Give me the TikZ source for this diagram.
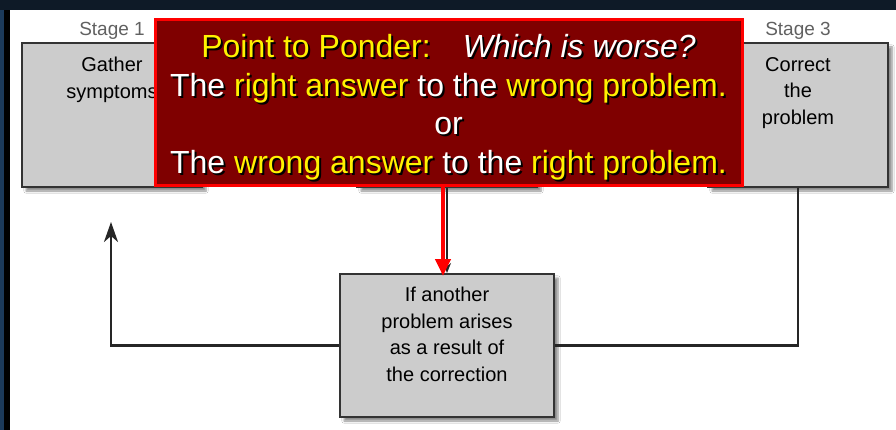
\documentclass[tikz,border=0pt]{standalone}
\usepackage{fontspec}
\setmainfont{Liberation Sans}
\usetikzlibrary{arrows.meta,positioning,shadows.blur}
\definecolor{framenavy}{HTML}{1C3A5A}
\definecolor{framedark}{HTML}{0E1A27}
\definecolor{boxgrey}{HTML}{CCCCCC}
\definecolor{pondred}{HTML}{7F0000}
\colorlet{hl}{yellow}
\colorlet{fg}{white}
\newcommand{\hlt}[1]{\textcolor{hl}{#1}}
\newcommand{\fgt}[1]{\textcolor{fg}{#1}}
\newcommand{\pondertext}{%
  \hlt{Point to Ponder:}\quad\fgt{\itshape Which is worse?}\\
  \fgt{The} \hlt{right answer} \fgt{to the} \hlt{wrong problem.}\\
  \fgt{or}\\
  \fgt{The} \hlt{wrong answer} \fgt{to the} \hlt{right problem.}}

\begin{document}
\begin{tikzpicture}[
  x=1pt, y=-1pt,
  every node/.style={inner sep=0pt},
  stagebox/.style ={draw=black!80, line width=2pt, fill=boxgrey,
                    minimum width=180pt, minimum height=144pt,
                    blur shadow={shadow xshift=4pt, shadow yshift=-4pt,
                                 shadow blur steps=6, shadow opacity=45}},
  stagelabel/.style={font=\fontsize{19}{22}\selectfont, text=black!62},
  boxtext/.style   ={font=\fontsize{20}{26.5}\selectfont, align=center, text=black},
  ponderbox/.style ={fill=pondred, draw=red, line width=3pt,
                     minimum width=587pt, minimum height=166pt},
  pondertxt/.style ={font=\fontsize{32}{38.7}\selectfont, align=center},
  pondershade/.style={pondertxt, text=black,
                     execute at begin node={\colorlet{hl}{black}\colorlet{fg}{black}}},
  flow/.style      ={draw=black!85, line width=2.3pt},
  flowarrow/.style ={flow, -{Stealth[length=20pt,width=14pt,inset=6pt]}},
  redarrow/.style  ={draw=red, line width=4pt, -{Triangle[length=17pt,width=15pt]}}]

% ----------------------------- frame ---------------------------------
\useasboundingbox (0,0) rectangle (896,430);
\fill[framedark] (0,0) rectangle (896,430);
\fill[framenavy] (0,10) rectangle (4,430);
\fill[black] (4,10) rectangle (10,430);
\fill[white] (10,10) rectangle (896,430);

% ---------------------------- stages ---------------------------------
\node[stagebox] (gather) at (112,115) {};
\node[stagebox] (stagetwo) at (447,115) {};
\node[stagebox] (correct) at (798,115) {};
\node[stagelabel, above=2pt of gather.north] (gatherlbl) {Stage 1};
\node[stagelabel, above=2pt of correct.north] (correctlbl) {Stage 3};
\node[boxtext, below=15pt of gather.north] (gathertxt) {Gather\\symptoms};
\node[boxtext, below=15pt of correct.north] (correcttxt) {Correct\\the\\problem};

% ------------------------- the new problem ---------------------------
\node[stagebox, minimum width=214pt, minimum height=143pt] (arises) at (447,345.5) {};
\node[boxtext, below=14pt of arises.north] (arisestxt)
  {If another\\problem arises\\as a result of\\the correction};

\coordinate (loopend) at (111,222);
\draw[flow] (correct.south) |- (arises.east);
\draw[flowarrow] (arises.west) -| (loopend);
\draw[flow, -{Stealth[length=10pt,width=8pt]}] (stagetwo.south) -- (arises.north);

% ---------------------------- ponder ---------------------------------
\node[ponderbox] (ponder) at (448.5,103) {};
\node[pondershade, anchor=north] (pondershadow) at (450.5,36) {\pondertext};
\node[pondertxt, anchor=north] (pondertext) at (448.5,34) {\pondertext};

\coordinate (redx) at (443,0);
\draw[redarrow, shorten >=-3pt] (ponder.south -| redx) -- (arises.north -| redx);

\end{tikzpicture}
\end{document}
